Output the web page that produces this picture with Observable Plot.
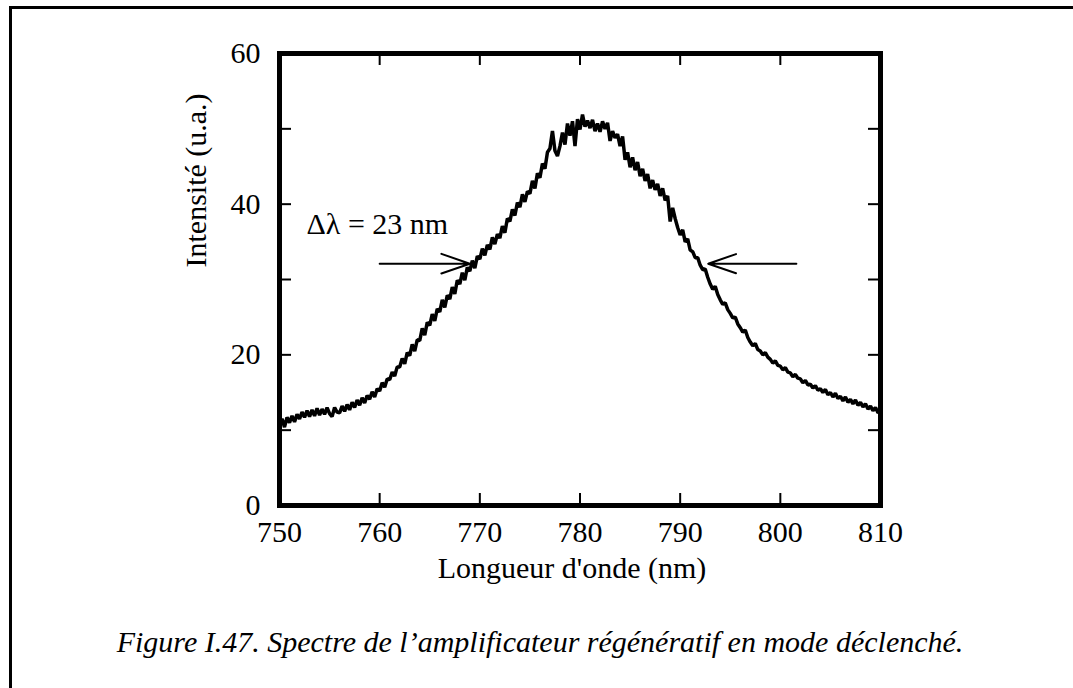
<!DOCTYPE html>
<html><head><meta charset="utf-8">
<script src="https://cdn.jsdelivr.net/npm/d3@7"></script>
<script src="https://cdn.jsdelivr.net/npm/@observablehq/plot@0.6"></script>
<style>
html,body{margin:0;padding:0;background:#fff;}
body{width:1073px;height:688px;position:relative;overflow:hidden;font-family:"Liberation Serif","Times New Roman",serif;}
#frame{position:absolute;left:9px;top:6px;width:1100px;height:700px;border-left:3px solid #000;border-top:3px solid #000;}
#chart{position:absolute;left:0;top:0;}
#caption{position:absolute;left:0;width:1080px;top:622px;text-align:center;font-style:italic;font-size:30px;line-height:40px;color:#000;}
</style></head>
<body>
<div id="frame"></div>
<div id="chart"></div>
<div id="caption"></div>
<script>
// ---- data ----
const lambdaStart = 750;   // nm
const lambdaStep = 0.25;   // nm
const intensity = [
  10.6, 11.5, 10.4, 11.7,
  11.0, 11.9, 11.1, 12.1,
  11.5, 12.4, 11.7, 12.6,
  11.8, 12.7, 11.9, 12.9,
  12.0, 12.8, 12.1, 13.0,
  12.2, 11.8, 13.0, 12.4,
  12.3, 13.2, 12.5, 13.4,
  12.7, 13.7, 13.0, 14.0,
  13.3, 14.3, 13.6, 14.6,
  14.1, 15.1, 14.4, 15.5,
  15.2, 16.3, 15.7, 16.8,
  16.7, 17.7, 17.2, 18.4,
  18.4, 19.5, 18.8, 20.3,
  19.9, 21.4, 20.5, 22.0,
  21.9, 23.5, 22.6, 24.3,
  23.9, 25.4, 24.5, 26.1,
  25.7, 27.3, 26.3, 27.9,
  27.4, 29.0, 28.1, 29.9,
  29.4, 30.9, 29.9, 31.6,
  31.1, 32.5, 31.5, 33.1,
  32.7, 34.1, 33.2, 34.6,
  34.0, 35.6, 34.7, 36.0,
  35.5, 37.1, 36.2, 38.1,
  37.7, 39.3, 38.5, 40.2,
  39.6, 41.3, 40.3, 41.7,
  41.4, 43.1, 42.1, 44.1,
  43.5, 45.4, 44.7, 46.9,
  47.4, 49.7, 47.1, 46.4,
  47.7, 49.5, 47.9, 50.7,
  49.1, 51.0, 47.7, 51.3,
  49.9, 51.9, 50.3, 51.1,
  50.1, 51.2, 49.7, 50.7,
  49.6, 51.0, 50.0, 50.8,
  48.4, 49.7, 48.8, 49.3,
  47.7, 49.0, 45.9, 46.9,
  44.9, 46.2, 44.5, 45.6,
  43.7, 44.7, 43.1, 44.0,
  42.1, 43.2, 41.9, 42.7,
  41.1, 42.1, 40.5, 41.1,
  37.7, 39.5, 38.1, 36.9,
  35.9, 36.6, 35.0, 35.4,
  33.9, 33.7, 32.9, 32.9,
  31.9, 31.3, 31.4, 30.3,
  29.4, 28.7, 29.1, 28.0,
  27.3, 26.7, 26.9, 26.0,
  25.5, 24.9, 25.0, 24.1,
  23.6, 23.0, 23.3, 22.3,
  21.7, 21.2, 21.5, 20.7,
  20.5, 20.0, 20.3, 19.7,
  19.4, 18.9, 19.2, 18.6,
  18.5, 18.0, 18.3, 17.7,
  17.6, 17.1, 17.4, 16.9,
  16.8, 16.3, 16.6, 16.0,
  16.1, 15.6, 15.9, 15.3,
  15.5, 15.0, 15.4, 14.7,
  15.0, 14.4, 14.9, 14.2,
  14.5, 13.9, 14.4, 13.7,
  14.1, 13.5, 14.0, 13.3,
  13.7, 13.1, 13.5, 12.8,
  13.2, 12.6, 13.0, 12.3,
  12.5
];
const xTickLabels = [750, 760, 770, 780, 790, 800, 810];
const xMinorTicks = [760, 770, 780, 790, 800];
const yTickLabels = [0, 20, 40, 60];
const yMinorTicks = [10, 20, 30, 40, 50];
const xDomain = [750, 810];
const yDomain = [0, 60];
const fwhmArrows = [
  {x1: 760.0, x2: 769.0, y: 32.1},
  {x1: 801.6, x2: 792.8, y: 32.1}
];
const annotations = [{x: 752.7, y: 36.1, text: "Δλ = 23 nm"}];
const xLabel = "Longueur d'onde (nm)";
const yLabel = "Intensité (u.a.)";
const captionText = "Figure I.47. Spectre de l’amplificateur régénératif en mode déclenché.";

// ---- layout ----
const W = 1073, H = 620, mL = 279, mR = 193, mT = 53, mB = 115;
const plotH = H - mT - mB, plotW = W - mL - mR;
const tickLen = 12;
const font = "'Liberation Serif', 'Times New Roman', serif";

const series = intensity.map((v, i) => ({lambda: lambdaStart + i * lambdaStep, I: v}));

const chart = Plot.plot({
  width: W, height: H,
  marginLeft: mL, marginRight: mR, marginTop: mT, marginBottom: mB,
  style: {fontFamily: font, fontSize: "30px", color: "#000", background: "transparent", overflow: "visible"},
  x: {domain: xDomain, label: null},
  y: {domain: yDomain, label: null},
  marks: [
    Plot.line(series, {x: "lambda", y: "I", stroke: "#000", strokeWidth: 3.5, strokeLinejoin: "miter"}),
    Plot.tickX(xMinorTicks, {x: d => d, insetTop: plotH - tickLen, stroke: "#000", strokeWidth: 2}),
    Plot.tickX(xMinorTicks, {x: d => d, insetBottom: plotH - tickLen, stroke: "#000", strokeWidth: 2}),
    Plot.tickY(yMinorTicks, {y: d => d, insetRight: plotW - tickLen, stroke: "#000", strokeWidth: 2}),
    Plot.tickY(yMinorTicks, {y: d => d, insetLeft: plotW - tickLen, stroke: "#000", strokeWidth: 2}),
    Plot.frame({stroke: "#000", strokeWidth: 5}),
    Plot.axisX(xTickLabels, {tickSize: 0, tickPadding: 15, fontSize: 30, fill: "#000"}),
    Plot.axisY(yTickLabels, {tickSize: 0, tickPadding: 19, fontSize: 30, fill: "#000"}),
    Plot.arrow(fwhmArrows, {x1: "x1", x2: "x2", y1: "y", y2: "y", stroke: "#000", strokeWidth: 2, headLength: 24, headAngle: 38}),
    Plot.text(annotations, {x: "x", y: "y", text: "text", textAnchor: "start", lineAnchor: "bottom", fontSize: 30, fill: "#000"}),
    Plot.text([yLabel], {text: d => d, frameAnchor: "left", rotate: -90, dx: -83, dy: -12, fontSize: 30, fill: "#000"}),
    Plot.text([xLabel], {text: d => d, frameAnchor: "bottom", dx: -8, dy: 72, fontSize: 30, fill: "#000"})
  ]
});
document.getElementById("chart").appendChild(chart);
document.getElementById("caption").textContent = captionText;
</script>
</body></html>
